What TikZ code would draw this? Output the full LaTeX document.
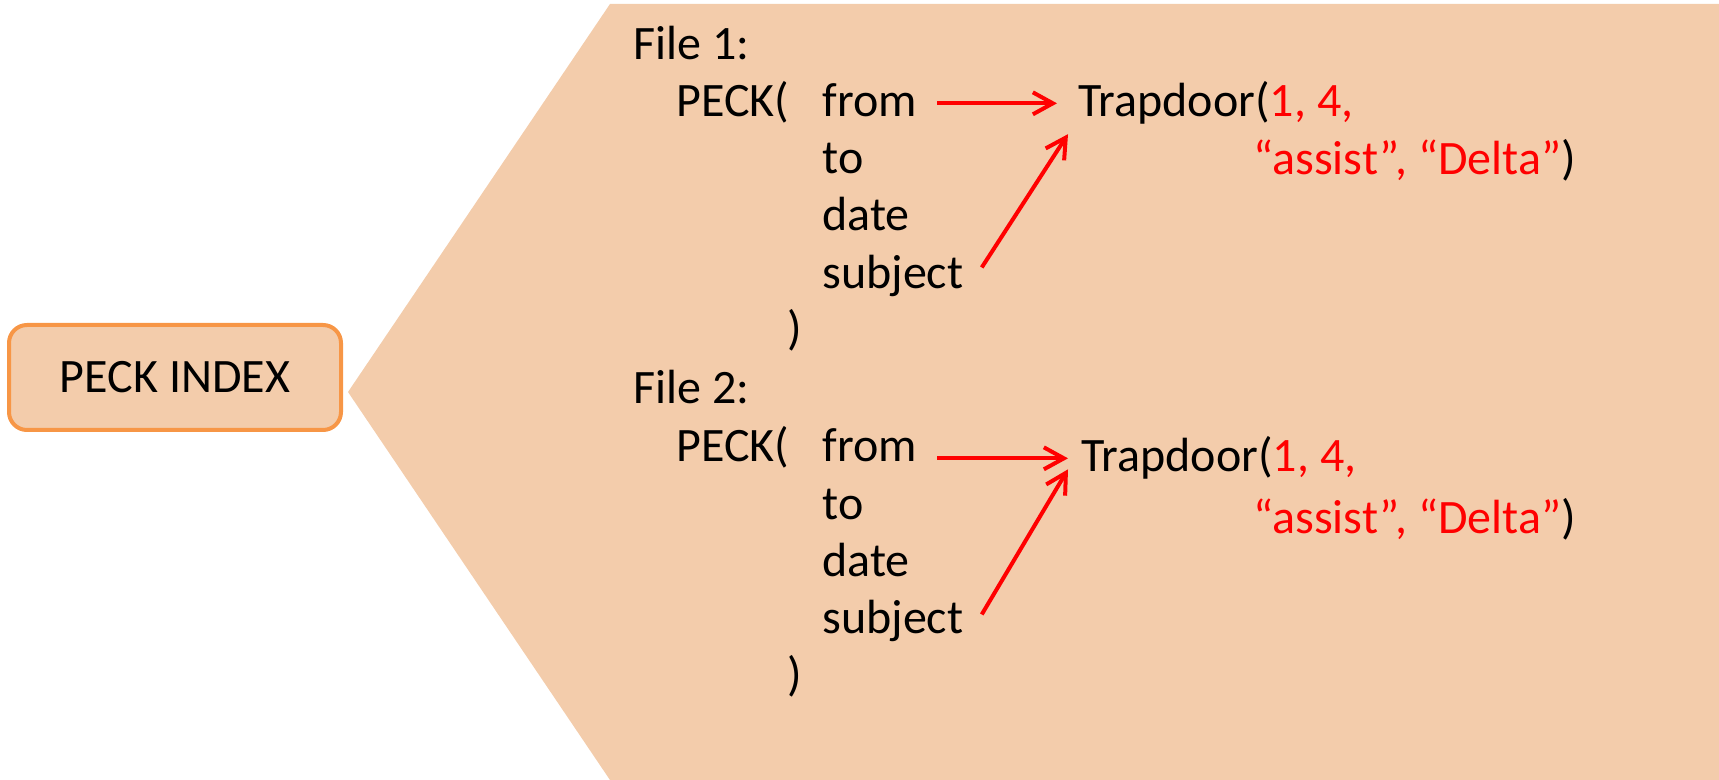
\documentclass[tikz,border=0pt]{standalone}
\usepackage{fontspec}
\setmainfont{Carlito}
\usetikzlibrary{arrows.meta}
\definecolor{peach}{HTML}{F3CCAB}
\definecolor{peckorange}{HTML}{F79646}

\begin{document}
\begin{tikzpicture}[x=0.5pt, y=-0.5pt,
    every node/.style={inner sep=0pt, anchor=base west, font=\fontsize{24}{28}\selectfont},
    idx/.style={draw=peckorange, line width=2pt, fill=peach, rounded corners=9pt,
                minimum width=166pt, minimum height=52.5pt, anchor=center},
    ptr/.style={draw=red, line width=2pt, -{Straight Barb[length=10pt,width=11pt]}}]
  \useasboundingbox (0,0) rectangle (1719,780);
  \fill[peach] (348,392) -- (610,4) -- (1719,4) -- (1719,780) -- (610,780) -- cycle;
  \node[idx] (index) at (175,377.5) {PECK INDEX};

  % file 1
  \node (file1) at (633,60) {File 1:};
  \node (peck1) at (676,117) {PECK(};
  \node (from1) at (822,117) {from};
  \node (to1) at (822,174) {to};
  \node (date1) at (822,231) {date};
  \node (subj1) at (822,289) {subject};
  \node (close1) at (787,345) {)};
  \node (trap1) at (1078,117) {Trapdoor(\textcolor{red}{1, 4,}};
  \node (args1) at (1253,175) {\textcolor{red}{“assist”, “Delta”})};
  \draw[ptr, shorten <=10pt, shorten >=10.5pt] (from1.east |- trap1.west) -- (trap1.west);
  \draw[ptr] ([xshift=9pt,yshift=4.5pt]subj1.east) -- ([xshift=-5pt,yshift=-4.5pt]trap1.south west);

  % file 2
  \node (file2) at (633,404) {File 2:};
  \node (peck2) at (676,462) {PECK(};
  \node (from2) at (822,462) {from};
  \node (to2) at (822,519) {to};
  \node (date2) at (822,576) {date};
  \node (subj2) at (822,633) {subject};
  \node (close2) at (787,690) {)};
  \node (trap2) at (1081,472) {Trapdoor(\textcolor{red}{1, 4,}};
  \node (args2) at (1253,533) {\textcolor{red}{“assist”, “Delta”})};
  \draw[ptr, shorten <=10pt, shorten >=6.5pt] (from2.east |- trap2.west) -- (trap2.west);
  \draw[ptr] ([xshift=9pt,yshift=3pt]subj2.east) -- ([xshift=-6.5pt,yshift=-5.5pt]trap2.west);
\end{tikzpicture}
\end{document}
